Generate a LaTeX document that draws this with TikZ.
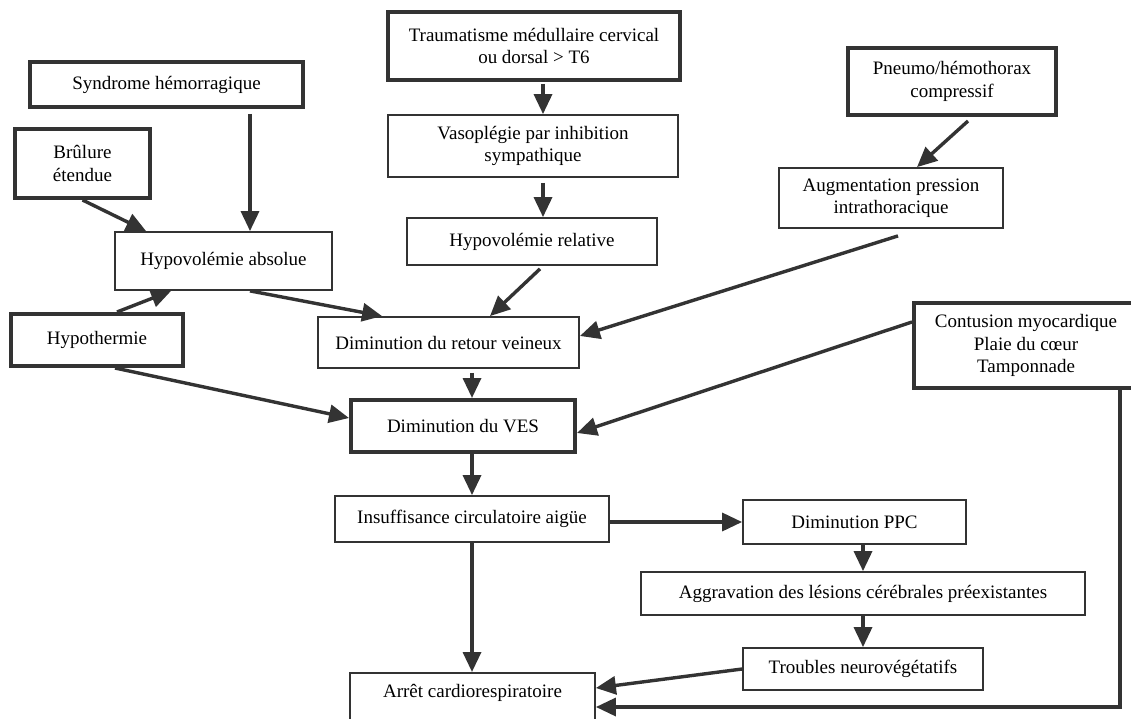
\documentclass[tikz,border=0pt]{standalone}
\usepackage{fontspec}
\setmainfont{Liberation Serif}
\usetikzlibrary{arrows.meta,calc}
\definecolor{ink}{HTML}{333333}
\begin{document}
\begin{tikzpicture}[x=1pt,y=-1pt,
  box/.style={draw=ink, fill=white, align=center, inner sep=2pt, text=black,
    font=\fontsize{19pt}{22.5pt}\selectfont},
  heavybox/.style={box, line width=4pt},
  lightbox/.style={box, line width=1.8pt},
  arr/.style={draw=ink, line width=3.4pt, -{Triangle[length=20pt,width=18pt]}}]

\fill[white] (0,0) rectangle (1131,719);
\useasboundingbox (0,0) rectangle (1131,719);
\clip (0,0) rectangle (1131,719);

% causes
\node[heavybox, minimum width=292pt, minimum height=68pt] (trauma) at (534,46)
  {Traumatisme médullaire cervical\\ou dorsal > T6};
\node[heavybox, minimum width=273pt, minimum height=45pt] (syndrome) at (166.5,84.5)
  {Syndrome hémorragique};
\node[heavybox, minimum width=208pt, minimum height=67pt] (pneumo) at (952,81.5)
  {Pneumo/hémothorax\\compressif};
\node[heavybox, minimum width=135pt, minimum height=69pt] (brulure) at (82.5,163.5)
  {Brûlure\\étendue};
\node[heavybox, minimum width=172pt, minimum height=52pt] (hypoth) at (97,340)
  {Hypothermie};
\node[heavybox, minimum width=224pt, minimum height=85pt] (contusion) at (1026,345.5)
  {Contusion myocardique\\Plaie du cœur\\Tamponnade};

% intermediate mechanisms
\node[lightbox, minimum width=290pt, minimum height=62pt] (vaso) at (533,146)
  {Vasoplégie par inhibition\\sympathique};
\node[lightbox, minimum width=224pt, minimum height=60pt] (augm) at (891,198)
  {Augmentation pression\\intrathoracique};
\node[lightbox, minimum width=217pt, minimum height=58pt] (hypoabs) at (223.5,261)
  {Hypovolémie absolue};
\node[lightbox, minimum width=250pt, minimum height=47pt] (hyporel) at (532,241.5)
  {Hypovolémie relative};
\node[lightbox, minimum width=261pt, minimum height=51pt] (retour) at (448.5,342.5)
  {Diminution du retour veineux};
\node[heavybox, minimum width=224pt, minimum height=52pt] (ves) at (463,426)
  {Diminution du VES};
\node[lightbox, minimum width=274pt, minimum height=46pt] (insuff) at (472,519)
  {Insuffisance circulatoire aigüe};
\node[lightbox, minimum width=223pt, minimum height=44pt] (ppc) at (854.5,522)
  {Diminution PPC};
\node[lightbox, minimum width=444pt, minimum height=43pt] (aggr) at (863,593.5)
  {Aggravation des lésions cérébrales préexistantes};
\node[lightbox, minimum width=240pt, minimum height=42pt] (troubles) at (863,669)
  {Troubles neurovégétatifs};
\node[lightbox, minimum width=245pt, minimum height=76pt, anchor=north,
  text height=13pt, text depth=40pt] (arret) at (472.5,672)
  {Arrêt cardiorespiratoire};

% connectors
\draw[arr] ([xshift=83.5pt,yshift=-5pt]syndrome.south) -- ([xshift=26.5pt]hypoabs.north);
\draw[arr] (brulure.south) -- ([xshift=32pt]hypoabs.north west);
\draw[arr] ([xshift=20pt]hypoth.north) -- ([xshift=57pt]hypoabs.south west);
\draw[arr] ([xshift=9pt,yshift=-2pt]trauma.south) -- ([xshift=10pt]vaso.north);
\draw[arr] ([xshift=10pt,yshift=-5pt]vaso.south) -- ([xshift=11pt]hyporel.north);
\draw[arr] ([xshift=16pt,yshift=-4pt]pneumo.south) -- ([xshift=26pt]augm.north);
\draw[arr] ([xshift=26.5pt]hypoabs.south) -- ([xshift=65pt]retour.north west);
\draw[arr] ([xshift=8pt,yshift=-3pt]hyporel.south) -- ([xshift=41.5pt]retour.north);
\draw[arr] ([xshift=7pt,yshift=-7pt]augm.south) -- ([yshift=6.5pt]retour.east);
\draw[arr] ([xshift=23.5pt,yshift=-4pt]retour.south) -- ([xshift=9pt]ves.north);
\draw[arr] ([xshift=18pt]hypoth.south) -- ([yshift=8pt]ves.west);
\draw[arr] ([yshift=23.5pt]contusion.west) -- ([yshift=-7pt]ves.east);
\draw[arr] ([xshift=9pt]ves.south) -- (insuff.north);
\draw[arr] (insuff.east |- ppc.west) -- (ppc.west);
\draw[arr] (aggr.north |- ppc.south) -- (aggr.north);
\draw[arr] (aggr.south) -- (troubles.north);
\draw[arr] (troubles.west) -- ($(arret.north east)+(0,16)$);
\draw[arr] (insuff.south) -- (insuff.south |- arret.north);
\draw[arr] ([xshift=94pt]contusion.south) |- ($(arret.north east)+(0,35)$);
\end{tikzpicture}
\end{document}
